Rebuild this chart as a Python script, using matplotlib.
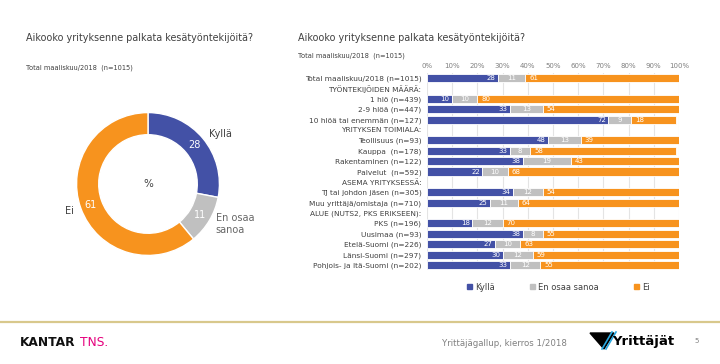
import matplotlib.pyplot as plt
import numpy as np
from matplotlib.patches import Patch, Polygon
from matplotlib.lines import Line2D

# --- data ---
donut_labels = ["Kyllä", "En osaa\nsanoa", "Ei"]
donut_values = [28, 11, 61]

row_labels = [
    "Total maaliskuu/2018 (n=1015)",
    "TYÖNTEKIJÖIDEN MÄÄRÄ:",
    "1 hlö (n=439)",
    "2-9 hlöä (n=447)",
    "10 hlöä tai enemmän (n=127)",
    "YRITYKSEN TOIMIALA:",
    "Teollisuus (n=93)",
    "Kauppa  (n=178)",
    "Rakentaminen (n=122)",
    "Palvelut  (n=592)",
    "ASEMA YRITYKSESSÄ:",
    "TJ tai johdon jäsen (n=305)",
    "Muu yrittäjä/omistaja (n=710)",
    "ALUE (NUTS2, PKS ERIKSEEN):",
    "PKS (n=196)",
    "Uusimaa (n=93)",
    "Etelä-Suomi (n=226)",
    "Länsi-Suomi (n=297)",
    "Pohjois- ja Itä-Suomi (n=202)",
]
kylla = [28, None, 10, 33, 72, None, 48, 33, 38, 22, None, 34, 25, None, 18, 38, 27, 30, 33]
en_osaa = [11, None, 10, 13, 9, None, 13, 8, 19, 10, None, 12, 11, None, 12, 8, 10, 12, 12]
ei = [61, None, 80, 54, 18, None, 39, 58, 43, 68, None, 54, 64, None, 70, 55, 63, 59, 55]

series_names = ["Kyllä", "En osaa sanoa", "Ei"]
colors = ["#4351a6", "#c0c0c0", "#f7931e"]
title = "Aikooko yrityksenne palkata kesätyöntekijöitä?"
subtitle = "Total maaliskuu/2018  (n=1015)"

W, H = 720, 364
fig = plt.figure(figsize=(W / 100, H / 100), dpi=100)


def fx(px):
    return px / W


def fy(py):
    return 1 - py / H


txt = "#404040"

# --- left: donut ---
fig.text(fx(26), fy(38), title, fontsize=6.9, color=txt, va="center", ha="left")
fig.text(fx(26), fy(68), subtitle, fontsize=4.8, color=txt, va="center", ha="left")

axd = fig.add_axes([fx(48), fy(284), fx(200), 200 / H])
wedges, texts = axd.pie(
    donut_values, labels=donut_labels, colors=colors, startangle=90, counterclock=False,
    radius=1, labeldistance=1.1, wedgeprops=dict(width=0.31, edgecolor="white", linewidth=1),
    textprops=dict(fontsize=7, color=txt),
)
texts[1].set_color("#666666")
for w, v in zip(wedges, donut_values):
    ang = np.deg2rad((w.theta1 + w.theta2) / 2)
    axd.text(0.85 * np.cos(ang), 0.85 * np.sin(ang), str(v), ha="center", va="center",
             fontsize=7, color="white")
axd.text(0, 0, "%", ha="center", va="center", fontsize=7.5, color=txt)
axd.set_xlim(-1.4, 1.4)
axd.set_ylim(-1.4, 1.4)
axd.set_aspect("equal")
axd.axis("off")

# --- right: stacked bars ---
fig.text(fx(298), fy(38), title, fontsize=6.9, color=txt, va="center", ha="left")
fig.text(fx(298), fy(56), subtitle, fontsize=4.8, color=txt, va="center", ha="left")

ax = fig.add_axes([fx(427), fy(270.2), fx(679) - fx(427), (270.2 - 72.8) / H])
y = np.arange(len(row_labels))
for i in range(len(row_labels)):
    if kylla[i] is None:
        continue
    vals = [kylla[i], en_osaa[i], ei[i]]
    left = 0
    for j, v in enumerate(vals):
        ax.barh(y[i], v, left=left, height=0.78, color=colors[j], edgecolor="white", linewidth=0.6)
        if j == 0:
            ax.text(left + v - 1, y[i], str(v), ha="right", va="center", fontsize=5, color="white")
        elif j == 1:
            ax.text(left + v / 2, y[i], str(v), ha="center", va="center", fontsize=5, color="white")
        else:
            ax.text(left + 1.5, y[i], str(v), ha="left", va="center", fontsize=5, color="white")
        left += v

ax.set_xlim(0, 100)
ax.set_ylim(len(row_labels) - 0.5, -0.5)
ax.set_xticks(np.arange(0, 101, 10))
ax.set_xticklabels([f"{t}%" for t in range(0, 101, 10)])
ax.xaxis.tick_top()
ax.tick_params(axis="x", length=0, labelsize=5, labelcolor="#808080", pad=3)
ax.set_yticks(y)
ax.set_yticklabels(row_labels)
ax.tick_params(axis="y", length=0, labelsize=5.3, labelcolor=txt, pad=4)
ax.grid(axis="x", color="#e4e4e4", lw=0.8)
ax.set_axisbelow(True)
for s in ax.spines.values():
    s.set_visible(False)

handles = [Patch(color=c) for c in colors]
fig.legend(handles, series_names, loc="center left", bbox_to_anchor=(fx(467), fy(287)),
           ncol=3, frameon=False, fontsize=6, handlelength=0.6, handleheight=0.6,
           handletextpad=0.4, columnspacing=4.2, labelcolor=txt, borderaxespad=0, borderpad=0)

# --- footer ---
fig.add_artist(Line2D([0, 1], [fy(322), fy(322)], transform=fig.transFigure,
                      color="#d8c88c", lw=1.6))
fig.text(fx(20), fy(342), "KANTAR", fontsize=8.8, fontweight="bold", color="#111111",
         va="center", ha="left")
fig.text(fx(80), fy(342), "TNS.", fontsize=8.8, color="#e5007d", va="center", ha="left")
fig.text(fx(442), fy(343), "Yrittäjägallup, kierros 1/2018", fontsize=6.2, color="#808080",
         va="center", ha="left")
# Yrittäjät logo
fig.add_artist(Polygon([[fx(590), fy(333)], [fx(614), fy(333)], [fx(604), fy(349)]],
                       closed=True, transform=fig.transFigure, color="black"))
for dx in (0, 4):
    fig.add_artist(Line2D([fx(602 + dx), fx(612 + dx)], [fy(349), fy(332)],
                          transform=fig.transFigure, color="#29a8e0", lw=1.2))
fig.text(fx(612), fy(342), "Yrittäjät", fontsize=9.5, fontweight="bold", color="black",
         va="center", ha="left")
fig.text(fx(697), fy(341), "5", fontsize=5, color="#808080", va="center", ha="center")

fig.savefig("out.png", dpi=100)
